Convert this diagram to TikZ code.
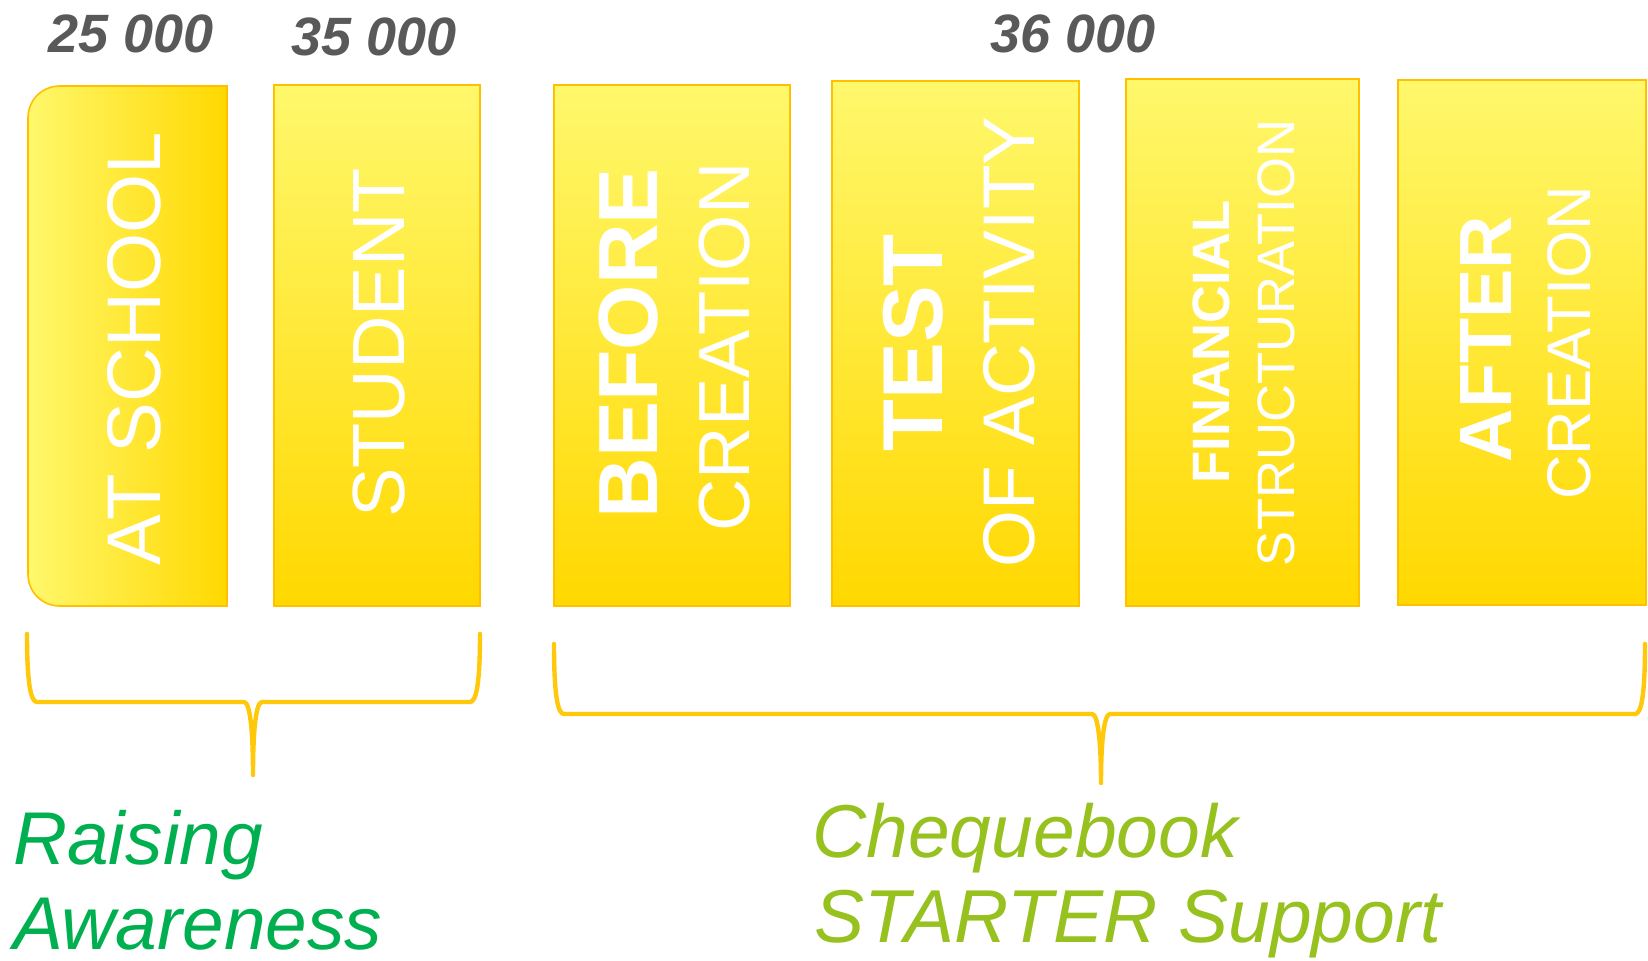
\documentclass[tikz,border=0pt]{standalone}
\usepackage{fontspec}
\setmainfont{Liberation Sans}
\definecolor{lightY}{HTML}{FFF86C}
\definecolor{goldY}{HTML}{FFD800}
\definecolor{edgeY}{HTML}{FFC000}
\definecolor{braceY}{HTML}{FFC80A}
\definecolor{numGray}{HTML}{595959}
\definecolor{greenA}{HTML}{00B050}
\definecolor{greenB}{HTML}{97C11F}
\tikzset{
  box/.style={draw=edgeY, line width=0.8pt, top color=lightY, bottom color=goldY, inner sep=0pt},
  lbl/.style={text=white, rotate=90, inner sep=0pt, anchor=center},
  num/.style={text=numGray, inner sep=0pt, anchor=base, font=\fontsize{27}{30}\selectfont\bfseries\itshape},
  brace/.style={draw=braceY, line width=2.2pt, line join=round, line cap=round},
  grpA/.style={text=greenA, inner sep=0pt, anchor=base west, font=\fontsize{37.4}{43}\selectfont\itshape},
  grpB/.style={text=greenB, inner sep=0pt, anchor=base west, font=\fontsize{37.5}{43}\selectfont\itshape}
}
\begin{document}
\begin{tikzpicture}[x=0.5pt,y=-0.5pt]
\useasboundingbox (0,0) rectangle (1648,960);
% numbers
\node[num] (n1) at (131,52.5) {25 000};
\node[num] (n2) at (374,55) {35 000};
\node[num] (n3) at (1073,52.5) {36 000};
% box 1 with rounded left corners, horizontal gradient
\shade[left color=lightY, right color=goldY, draw=edgeY, line width=0.8pt]
  (227,86) -- (60,86) .. controls (42,86) and (28,100) .. (28,118)
  -- (28,574) .. controls (28,592) and (42,606) .. (60,606) -- (227,606) -- cycle;
\coordinate (b1) at (127.5,346);
% other boxes
\node[box, minimum width=103pt, minimum height=260.5pt] (b2) at (377,345.5) {};
\node[box, minimum width=118pt, minimum height=260.5pt] (b3) at (672,345.5) {};
\node[box, minimum width=123.5pt, minimum height=262.5pt] (b4) at (955.5,343.5) {};
\node[box, minimum width=116.5pt, minimum height=263.5pt] (b5) at (1242.5,342.5) {};
\node[box, minimum width=124pt, minimum height=262.5pt] (b6) at (1522,342.5) {};
% box texts
\node[lbl, font=\fontsize{38}{40}\selectfont] (t1) at (134,349) {AT SCHOOL};
\node[lbl, font=\fontsize{37}{40}\selectfont] (t2) at (379,343) {STUDENT};
\node[lbl, font=\fontsize{42}{44}\selectfont\bfseries] (t3a) at (629,343) {BEFORE};
\node[lbl, font=\fontsize{36.2}{40}\selectfont] (t3b) at (725,347) {CREATION};
\node[lbl, font=\fontsize{42.5}{44}\selectfont\bfseries] (t4a) at (913,343) {TEST};
\node[lbl, font=\fontsize{36.6}{40}\selectfont] (t4b) at (1009,342) {OF ACTIVITY};
\node[lbl, font=\fontsize{26.3}{30}\selectfont\bfseries] (t5a) at (1211,342) {FINANCIAL};
\node[lbl, font=\fontsize{26.3}{30}\selectfont] (t5b) at (1276,343) {STRUCTURATION};
\node[lbl, font=\fontsize{37}{40}\selectfont\bfseries] (t6a) at (1486,339) {AFTER};
\node[lbl, font=\fontsize{30.8}{34}\selectfont] (t6b) at (1569,343) {CREATION};
% braces
\coordinate (la) at (27,634);
\coordinate (lb) at (480,634);
\coordinate (ltip) at (253,775);
\draw[brace] (la) .. controls (27,685) and (31,702) .. (37,702) -- (244,702)
  .. controls (250,702) and (253,730) .. (ltip)
  .. controls (253,730) and (256,702) .. (262,702) -- (470,702)
  .. controls (476,702) and (480,685) .. (lb);
\coordinate (ra) at (554,644);
\coordinate (rb) at (1645,644);
\coordinate (rtip) at (1101,783);
\draw[brace] (ra) .. controls (554,697) and (558,714) .. (564,714) -- (1092,714)
  .. controls (1098,714) and (1101,742) .. (rtip)
  .. controls (1101,742) and (1104,714) .. (1110,714) -- (1635,714)
  .. controls (1641,714) and (1645,697) .. (rb);
% group labels
\node[grpA] (g1a) at (13,864) {Raising};
\node[grpA] (g1b) at (13,949) {Awareness};
\node[grpB] (g2a) at (812,857) {Chequebook};
\node[grpB] (g2b) at (814,942) {STARTER Support};
\end{tikzpicture}
\end{document}
